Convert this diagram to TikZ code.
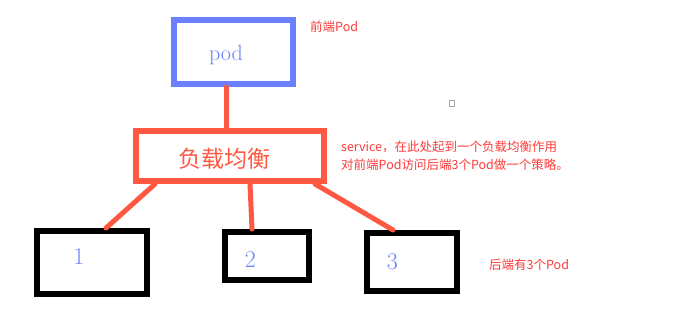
\documentclass[tikz,border=0pt]{standalone}
\usepackage{fontspec}
\newfontfamily\cjk{Noto Sans CJK SC}
\usetikzlibrary{arrows, arrows.meta}

\definecolor{podblue}{RGB}{106,128,255}
\definecolor{numblue}{RGB}{110,130,250}
\definecolor{linkred}{RGB}{255,88,66}
\definecolor{notered}{RGB}{255,58,58}

\begin{document}
\begin{tikzpicture}[x=1pt, y=-1pt]

\useasboundingbox (0, 0) rectangle (693, 324) ;

\def\boxwidth{6pt}
\def\linkwidth{5pt}

\tikzstyle{pod box} = [draw=podblue, line width=\boxwidth, fill=white, inner sep=0pt]
\tikzstyle{balancer box} = [draw=linkred, line width=\boxwidth, fill=white, inner sep=0pt]
\tikzstyle{backend box} = [draw=black, line width=\boxwidth, fill=white, inner sep=0pt]
\tikzstyle{link} = [line width=\linkwidth, linkred, line cap=round]
\tikzstyle{note} = [anchor=west, inner sep=0pt, text=notered, font=\cjk\fontsize{12.5}{18.5}\selectfont]
\tikzstyle{number} = [inner sep=0pt, text=numblue, font=\fontsize{24}{24}\selectfont]

% front pod

\node [pod box, minimum width=119, minimum height=64] (pod) at (233.5, 52) {} ;
\node [inner sep=0pt, text=podblue, font=\fontsize{22}{22}\selectfont] (podtext) at (226, 55) {pod} ;

\node [note] (frontnote) at (310, 27) {前端Pod} ;

% load balancer

\node [balancer box, minimum width=188, minimum height=50] (lb) at (230, 156) {} ;
\node [inner sep=0pt, text=linkred, font=\cjk\fontsize{23}{23}\selectfont] (lbtext) at (224.5, 159) {负载均衡} ;

\node [note, align=left] (lbnote) at (341, 156)
	{service，在此处起到一个负载均衡作用\\对前端Pod访问后端3个Pod做一个策略。} ;

% backend pods

\node [backend box, minimum width=110, minimum height=63] (b1) at (92, 262.5) {} ;
\node [backend box, minimum width=84, minimum height=48] (b2) at (267, 256) {} ;
\node [backend box, minimum width=90, minimum height=58] (b3) at (412, 262) {} ;

\node [number] (n1) at (79, 256.5) {1} ;
\node [number] (n2) at (250.5, 260) {2} ;
\node [number] (n3) at (392.5, 261.5) {3} ;

\node [note] (backnote) at (489, 265) {后端有3个Pod} ;

% links

\draw [link] ([xshift=-7.5]pod.south) -- ([xshift=-4]lb.north) ;
\draw [link] ([xshift=22]lb.south west) -- ([xshift=14]b1.north) ;
\draw [link] ([xshift=20]lb.south) -- ([xshift=-15]b2.north) ;
\draw [link] ([xshift=-12]lb.south east) -- ([xshift=-19]b3.north) ;

% small mark

\draw [line width=.6pt, gray!70] (449, 100) rectangle (454, 106) ;

\end{tikzpicture}
\end{document}
